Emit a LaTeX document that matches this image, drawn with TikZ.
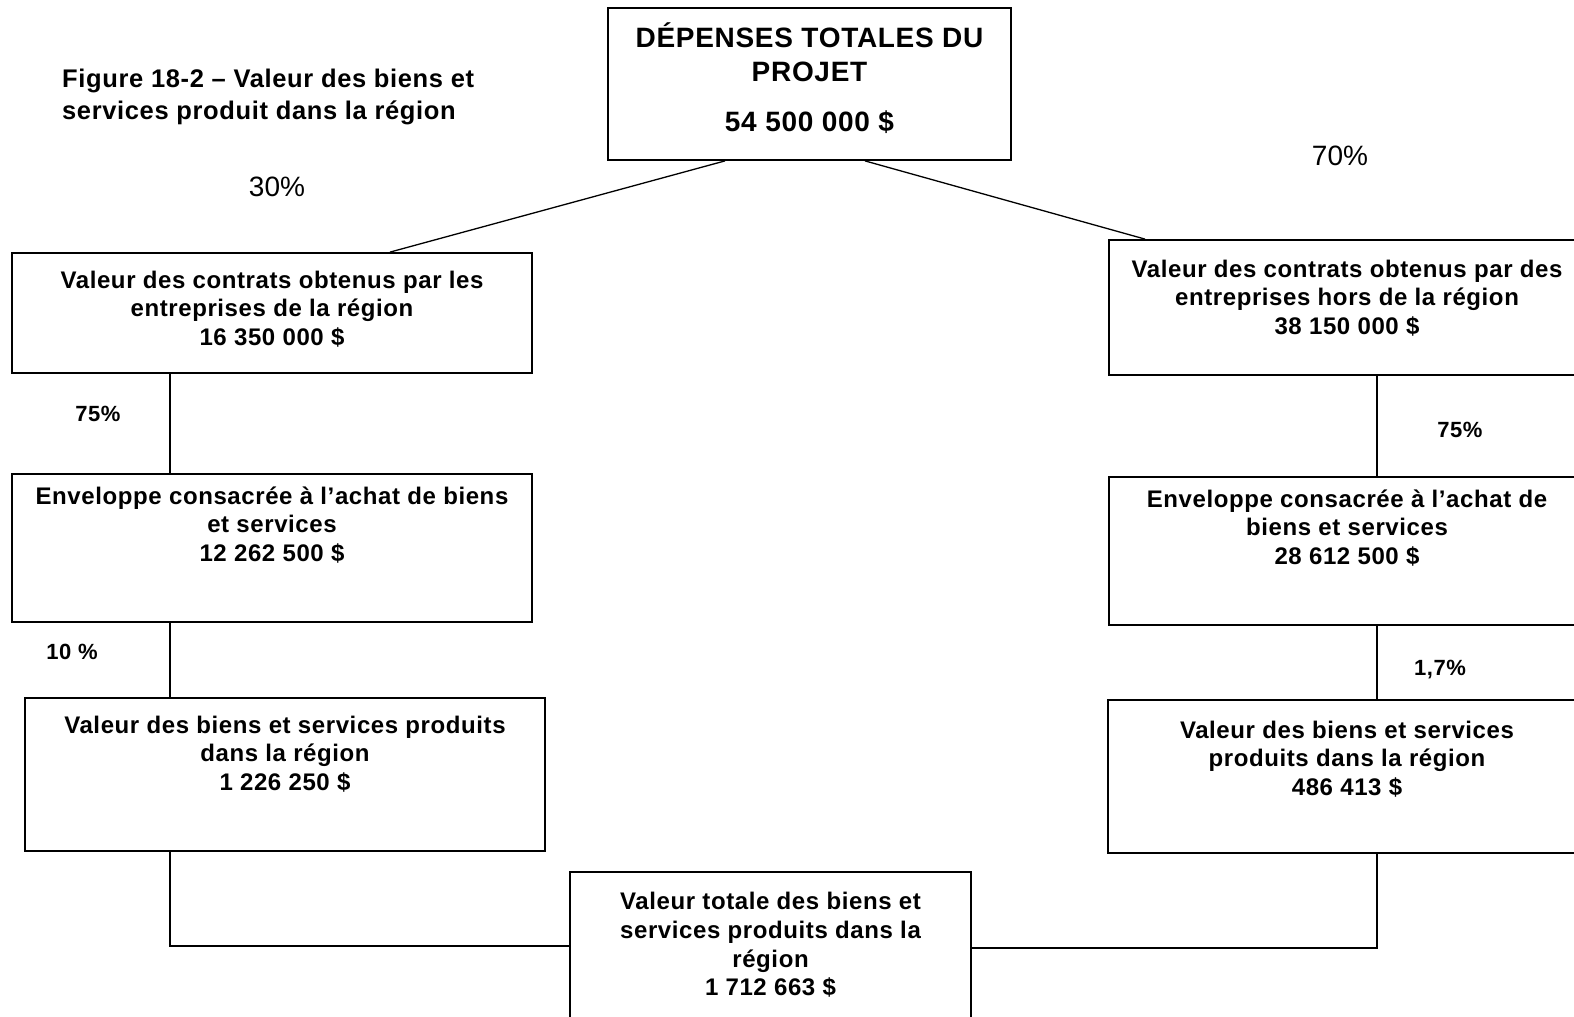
\documentclass[tikz,border=0pt]{standalone}
\usepackage{fontspec}
\setmainfont{Liberation Sans}
\newfontfamily\wideb[LetterSpace=2.5]{Liberation Sans}
\begin{document}
\begin{tikzpicture}[x=1pt,y=-1pt,
  box/.style={draw, line width=1.8pt, rectangle, inner sep=0pt},
  txt/.style={align=center, font=\wideb\bfseries\fontsize{24}{28.6}\selectfont, inner sep=0pt},
  pct/.style={font=\wideb\bfseries\fontsize{22}{22}\selectfont, inner sep=0pt},
  bigpct/.style={font=\fontsize{28}{28}\selectfont, inner sep=0pt},
  conn/.style={line width=1.3pt}]
\useasboundingbox (0,0) rectangle (1574,1017);
% boxes
\node[box, minimum width=403pt, minimum height=152pt] (top) at (809.5,84) {};
\node[box, minimum width=520pt, minimum height=120pt] (l1) at (272,313) {};
\node[box, minimum width=476pt, minimum height=135pt] (r1) at (1347,307.5) {};
\node[box, minimum width=520pt, minimum height=148pt] (l2) at (272,548) {};
\node[box, minimum width=476pt, minimum height=148pt] (r2) at (1347,551) {};
\node[box, minimum width=520pt, minimum height=153pt] (l3) at (285,774.5) {};
\node[box, minimum width=477pt, minimum height=153pt] (r3) at (1346.5,776.5) {};
\node[box, minimum width=401pt, minimum height=150pt] (bot) at (770.5,947) {};
% texts
\node[align=center, inner sep=0pt, font=\wideb\bfseries\fontsize{28}{34}\selectfont] (toptxt) at (809.5,52) {DÉPENSES TOTALES DU\\PROJET};
\node[inner sep=0pt, font=\wideb\bfseries\fontsize{28}{34}\selectfont] (topnum) at (809.5,122) {54 500 000 \$};
\node[txt] (l1t) at (272,309) {Valeur des contrats obtenus par les\\entreprises de la région\\16 350 000 \$};
\node[txt] (r1t) at (1347,298) {Valeur des contrats obtenus par des\\entreprises hors de la région\\38 150 000 \$};
\node[txt] (l2t) at (272,525) {Enveloppe consacrée à l’achat de biens\\et services\\12 262 500 \$};
\node[txt] (r2t) at (1347,528) {Enveloppe consacrée à l’achat de\\biens et services\\28 612 500 \$};
\node[txt] (l3t) at (285,754) {Valeur des biens et services produits\\dans la région\\1 226 250 \$};
\node[txt] (r3t) at (1347,759) {Valeur des biens et services\\produits dans la région\\486 413 \$};
\node[txt] (bott) at (770.5,945) {Valeur totale des biens et\\services produits dans la\\région\\1 712 663 \$};
\node[align=left, anchor=west, inner sep=0pt, font=\wideb\bfseries\fontsize{25.5}{32}\selectfont] (cap) at (62,97) {Figure 18-2 – Valeur des biens et\\services produit dans la région};
% percentages
\node[bigpct] (p30) at (277,187) {30\%};
\node[bigpct] (p70) at (1340,156) {70\%};
\node[pct] (p75l) at (98,414) {75\%};
\node[pct] (p10) at (72,652) {10 \%};
\node[pct] (p75r) at (1460,430) {75\%};
\node[pct] (p17) at (1440,670) {1,7\%};
% connectors
\coordinate (jl) at (170,946);
\coordinate (jr) at (1377,948);
\draw[conn] (top.south -| 725,0) -- (l1.north -| 390,0);
\draw[conn] (top.south -| 865,0) -- (r1.north -| 1145,0);
\draw[conn] (l1.south -| jl) -- (l2.north -| jl);
\draw[conn] (l2.south -| jl) -- (l3.north -| jl);
\draw[conn] (l3.south -| jl) -- (jl) -- (bot.west |- jl);
\draw[conn] (r1.south -| jr) -- (r2.north -| jr);
\draw[conn] (r2.south -| jr) -- (r3.north -| jr);
\draw[conn] (r3.south -| jr) -- (jr) -- (bot.east |- jr);
\end{tikzpicture}
\end{document}
